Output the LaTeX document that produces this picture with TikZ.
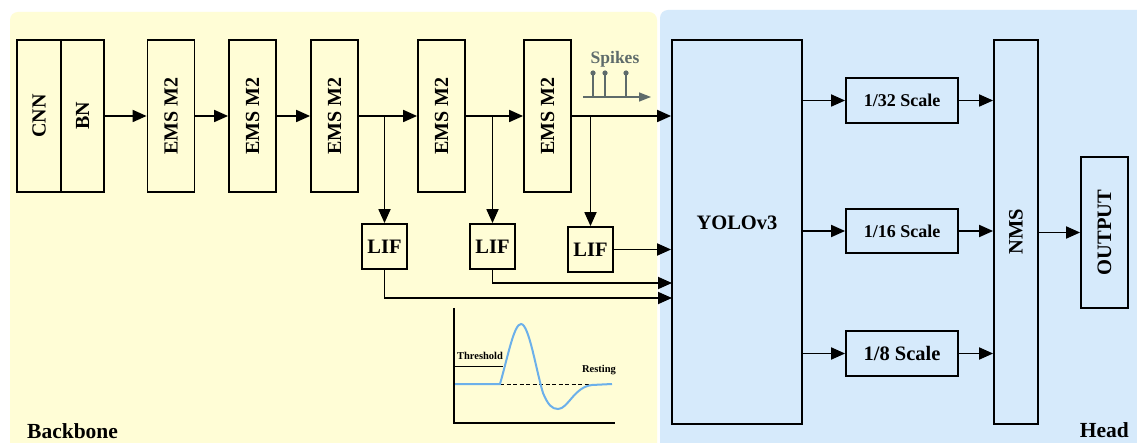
\documentclass[tikz,border=0pt]{standalone}
\usepackage{fontspec}
\setmainfont{Liberation Serif}
\usetikzlibrary{arrows.meta,calc}
\definecolor{bbyellow}{HTML}{FFFDD6}
\definecolor{hdblue}{HTML}{D6EAFB}
\definecolor{spkgray}{HTML}{5E6B6B}
\definecolor{vblue}{HTML}{6CB0EA}
\begin{document}
\begin{tikzpicture}[x=1pt,y=-1pt,
  box/.style={draw,line width=1.8pt,inner sep=0pt,font=\fontsize{20}{22}\selectfont\bfseries},
  conn/.style={line width=1.8pt,-{Triangle[length=14pt,width=12pt]}},
  plain/.style={line width=1.8pt},
  spk/.style={line width=1.5pt,draw=spkgray},
  lbl/.style={inner sep=0pt,font=\fontsize{21.5}{24}\selectfont\bfseries},
  small/.style={inner sep=0pt,font=\fontsize{10.5}{12}\selectfont\bfseries}]
\useasboundingbox (0,0) rectangle (1137,443);
\begin{scope}
\clip (0,0) rectangle (1137,443);
\fill[white] (0,0) rectangle (1137,443);
\fill[bbyellow,rounded corners=8pt] (10,12) rectangle (657,470);
\fill[hdblue,rounded corners=8pt] (660,10) rectangle (1160,470);
\end{scope}
% backbone boxes
\node[box,minimum width=44pt,minimum height=152pt] (cnn) at (39,116) {\rotatebox{90}{CNN}};
\node[box,minimum width=43pt,minimum height=152pt] (bn) at (82.5,116) {\rotatebox{90}{BN}};
\node[box,minimum width=47pt,minimum height=152pt] (ems1) at (171,116) {\rotatebox{90}{EMS M2}};
\node[box,minimum width=47pt,minimum height=152pt] (ems2) at (252.5,116) {\rotatebox{90}{EMS M2}};
\node[box,minimum width=47pt,minimum height=152pt] (ems3) at (334.5,116) {\rotatebox{90}{EMS M2}};
\node[box,minimum width=47pt,minimum height=152pt] (ems4) at (441.5,116) {\rotatebox{90}{EMS M2}};
\node[box,minimum width=47pt,minimum height=152pt] (ems5) at (547.5,116) {\rotatebox{90}{EMS M2}};
% LIF
\node[box,minimum width=45pt,minimum height=45pt,font=\fontsize{20.5}{22}\selectfont\bfseries] (lif1) at (384.5,246.5) {LIF};
\node[box,minimum width=45pt,minimum height=45pt,font=\fontsize{20.5}{22}\selectfont\bfseries] (lif2) at (492.5,246.5) {LIF};
\node[box,minimum width=45pt,minimum height=45pt,font=\fontsize{20.5}{22}\selectfont\bfseries] (lif3) at (590.5,249.5) {LIF};
% head
\node[box,minimum width=130pt,minimum height=384pt] (yolo) at (737,232) {};
\node[inner sep=0pt,font=\fontsize{20.5}{22}\selectfont\bfseries] (yololbl) at (737,223) {YOLOv3};
\node[box,minimum width=112pt,minimum height=45pt,font=\fontsize{18}{20}\selectfont\bfseries] (s32) at (902,100.5) {1/32 Scale};
\node[box,minimum width=112pt,minimum height=44pt,font=\fontsize{18}{20}\selectfont\bfseries] (s16) at (902,231) {1/16 Scale};
\node[box,minimum width=112pt,minimum height=45pt,font=\fontsize{20.5}{22}\selectfont\bfseries] (s8) at (902,353.5) {1/8 Scale};
\node[box,minimum width=44pt,minimum height=384pt,font=\fontsize{20.5}{22}\selectfont\bfseries] (nms) at (1016,232) {\rotatebox{90}{NMS}};
\node[box,minimum width=47pt,minimum height=151pt,font=\fontsize{20.5}{22}\selectfont\bfseries] (out) at (1104.5,232.5) {\rotatebox{90}{OUTPUT}};
% main chain
\draw[conn] (bn.east) -- (ems1.west);
\draw[conn] (ems1.east) -- (ems2.west);
\draw[conn] (ems2.east) -- (ems3.west);
\draw[conn] (ems3.east) -- (ems4.west);
\draw[conn] (ems4.east) -- (ems5.west);
\draw[conn] (ems5.east) -- (ems5.east -| yolo.west);
\draw[conn] (lif1.north |- ems3.east) -- (lif1.north);
\draw[conn] (lif2.north |- ems4.east) -- (lif2.north);
\draw[conn] (lif3.north |- ems5.east) -- (lif3.north);
\draw[conn] (lif3.east) -- (lif3.east -| yolo.west);
\coordinate (in2) at (672,283);
\coordinate (in1) at (672,298);
\draw[conn] (lif2.south) |- (in2);
\draw[conn] (lif1.south) |- (in1);
% head arrows
\draw[conn] (s32.west -| yolo.east) -- (s32.west);
\draw[conn] (s16.west -| yolo.east) -- (s16.west);
\draw[conn] (s8.west -| yolo.east) -- (s8.west);
\draw[conn] (s32.east) -- (s32.east -| nms.west);
\draw[conn] (s16.east) -- (s16.east -| nms.west);
\draw[conn] (s8.east) -- (s8.east -| nms.west);
\draw[conn] (nms.east |- out.west) -- (out.west);
% spikes
\node[inner sep=0pt,text=spkgray,font=\fontsize{17.5}{20}\selectfont\bfseries] (spklbl) at (615,59) {Spikes};
\coordinate (sp0) at (583,97);
\coordinate (sp1) at (651,97);
\draw[spk,-{Triangle[length=12pt,width=9pt]},color=spkgray] (sp0) -- (sp1);
\foreach \x in {593,605,626}{
  \draw[spk] (\x,97) -- (\x,74);
  \fill[spkgray] (\x,73) circle (2.6pt);
}
% membrane plot
\coordinate (ax0) at (454,308);
\coordinate (ax1) at (454,423);
\coordinate (ax2) at (615,423);
\draw[plain] (ax0) -- (ax1) -- (ax2);
\draw[line width=0.8pt] (454,366) -- (503,366);
\draw[line width=1pt,dash pattern=on 4pt off 2.5pt] (500,384) -- (612,384);
\draw[vblue,line width=2pt] (455,384) -- (500,384)
  .. controls (508,356) and (514,324) .. (521,324)
  .. controls (529,324) and (536,370) .. (543,393)
  .. controls (548,405) and (552,409) .. (558,409)
  .. controls (568,409) and (574,387) .. (592,385) -- (612,384);
\node[small] (thr) at (480,356) {Threshold};
\node[small] (rest) at (599,370) {Resting};
% region labels
\node[lbl,anchor=west] (bbl) at (27,431) {Backbone};
\node[lbl,anchor=east] (hdl) at (1129,430) {Head};
\end{tikzpicture}
\end{document}
